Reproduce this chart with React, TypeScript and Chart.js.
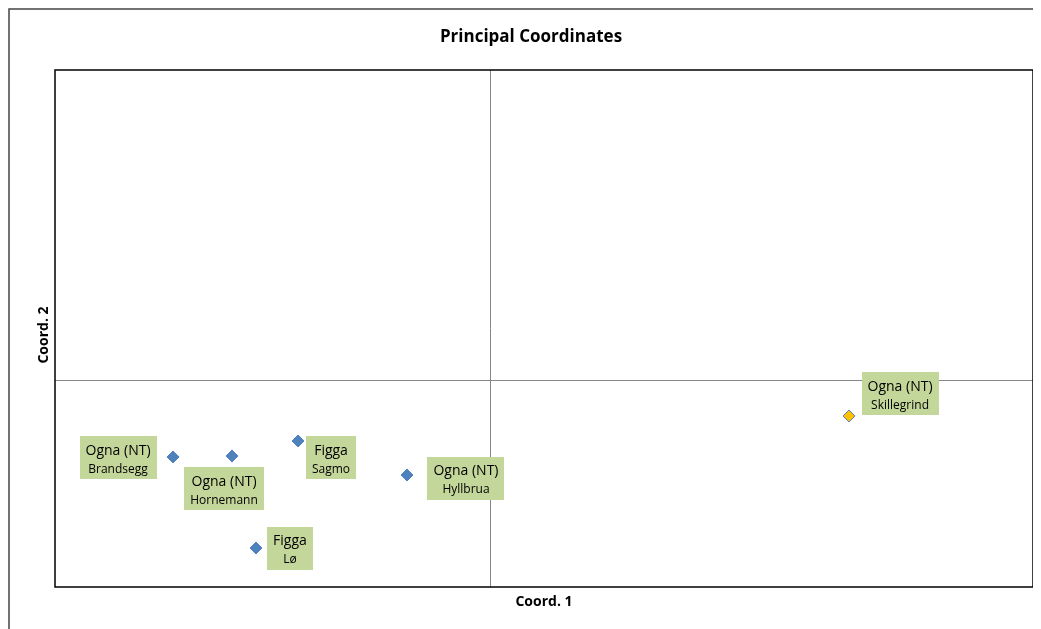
import React, { useEffect, useRef } from "react";
import { Chart, registerables } from "chart.js";

Chart.register(...registerables);

const siteNames = ["Ogna (NT)", "Ogna (NT)", "Figga", "Figga", "Ogna (NT)", "Ogna (NT)"];
const placeNames = ["Brandsegg", "Hornemann", "Sagmo", "Lø", "Hyllbrua", "Skillegrind"];
const coord1 = [-3.243, -2.64, -1.965, -2.395, -0.851, 3.669];
const coord2 = [-1.485, -1.466, -1.176, -3.246, -1.834, -0.692];
const groupIndex = [0, 0, 0, 0, 0, 1];
// label box centre offsets relative to marker (layout, px)
const labelDx = [-55, -8, 33, 34, 59, 51];
const labelDy = [1, 33, 17, 0, 3, -22];

const xRange = [-4.45, 5.55];
const yRange = [-4.0, 6.0];

const FONT = "'Open Sans', 'Noto Sans', sans-serif";

const decorPlugin = {
  id: "decor",
  beforeDatasetsDraw(chart: any) {
    const { ctx, chartArea, scales } = chart;
    const x0 = Math.round(scales.x.getPixelForValue(0)) + 0.5;
    const y0 = Math.round(scales.y.getPixelForValue(0)) + 0.5;
    ctx.save();
    ctx.strokeStyle = "#868686";
    ctx.lineWidth = 1;
    ctx.beginPath();
    ctx.moveTo(x0, chartArea.top);
    ctx.lineTo(x0, chartArea.bottom);
    ctx.moveTo(chartArea.left, y0);
    ctx.lineTo(chartArea.right, y0);
    ctx.stroke();
    ctx.restore();
  },
  afterDatasetsDraw(chart: any) {
    const { ctx, chartArea } = chart;
    ctx.save();
    // plot frame
    ctx.strokeStyle = "#000000";
    ctx.lineWidth = 1.5;
    ctx.strokeRect(chartArea.left, chartArea.top, chartArea.right - chartArea.left, chartArea.bottom - chartArea.top);
    // outer chart frame (left and top visible)
    ctx.strokeStyle = "#444444";
    ctx.lineWidth = 1.5;
    ctx.beginPath();
    ctx.moveTo(1, chart.height);
    ctx.lineTo(1, 1);
    ctx.lineTo(chart.width, 1);
    ctx.stroke();

    // data labels
    const metaA = chart.getDatasetMeta(0);
    const metaB = chart.getDatasetMeta(1);
    let ia = 0;
    let ib = 0;
    for (let i = 0; i < placeNames.length; i++) {
      const el = groupIndex[i] === 0 ? metaA.data[ia++] : metaB.data[ib++];
      const cx = el.x + labelDx[i];
      const cy = el.y + labelDy[i];
      ctx.font = `14px ${FONT}`;
      const w1 = ctx.measureText(siteNames[i]).width;
      ctx.font = `12px ${FONT}`;
      const w2 = ctx.measureText(placeNames[i]).width;
      const bw = Math.max(w1, w2) + 12;
      const bh = 43;
      ctx.fillStyle = "#C4D79B";
      ctx.fillRect(Math.round(cx - bw / 2), Math.round(cy - bh / 2), Math.round(bw), bh);
      ctx.fillStyle = "#000000";
      ctx.textAlign = "center";
      ctx.textBaseline = "middle";
      ctx.font = `14px ${FONT}`;
      ctx.fillText(siteNames[i], cx, cy - 7);
      ctx.font = `12px ${FONT}`;
      ctx.fillText(placeNames[i], cx, cy + 12);
    }

    // titles
    ctx.fillStyle = "#000000";
    ctx.textAlign = "center";
    ctx.textBaseline = "middle";
    ctx.font = `bold 17px ${FONT}`;
    ctx.fillText("Principal Coordinates", 523, 29);
    ctx.font = `bold 14px ${FONT}`;
    ctx.fillText("Coord. 1", (chartArea.left + chartArea.right) / 2, 594);
    ctx.save();
    ctx.translate(36, 327);
    ctx.rotate(-Math.PI / 2);
    ctx.fillText("Coord. 2", 0, 0);
    ctx.restore();
    ctx.restore();
  },
};

export default function App() {
  const ref = useRef<HTMLCanvasElement | null>(null);
  useEffect(() => {
    if (!ref.current) return;
    const ptsA: any[] = [];
    const ptsB: any[] = [];
    for (let i = 0; i < coord1.length; i++) {
      const p = { x: coord1[i], y: coord2[i] };
      if (groupIndex[i] === 0) ptsA.push(p);
      else ptsB.push(p);
    }
    const chart = new Chart(ref.current, {
      type: "scatter",
      data: {
        datasets: [
          {
            label: "Pop1",
            data: ptsA,
            pointStyle: "rectRot",
            pointRadius: 6,
            backgroundColor: "#4F81BD",
            borderColor: "#4F81BD",
            borderWidth: 1,
          },
          {
            label: "Pop2",
            data: ptsB,
            pointStyle: "rectRot",
            pointRadius: 6,
            backgroundColor: "#FFC000",
            borderColor: "#4F81BD",
            borderWidth: 1,
          },
        ],
      },
      options: {
        responsive: false,
        animation: false,
        layout: { padding: { left: 47, top: 62, right: 8, bottom: 42 } },
        plugins: {
          legend: { display: false },
          title: { display: false },
          tooltip: { enabled: false },
        },
        scales: {
          x: {
            type: "linear",
            min: xRange[0],
            max: xRange[1],
            display: false,
          },
          y: {
            type: "linear",
            min: yRange[0],
            max: yRange[1],
            display: false,
          },
        },
      },
      plugins: [decorPlugin],
    });
    return () => chart.destroy();
  }, []);
  return (
    <div style={{ width: 1033, height: 621, overflow: "hidden" }}>
      <canvas ref={ref} width={1033} height={621} style={{ display: "block" }} />
    </div>
  );
}
